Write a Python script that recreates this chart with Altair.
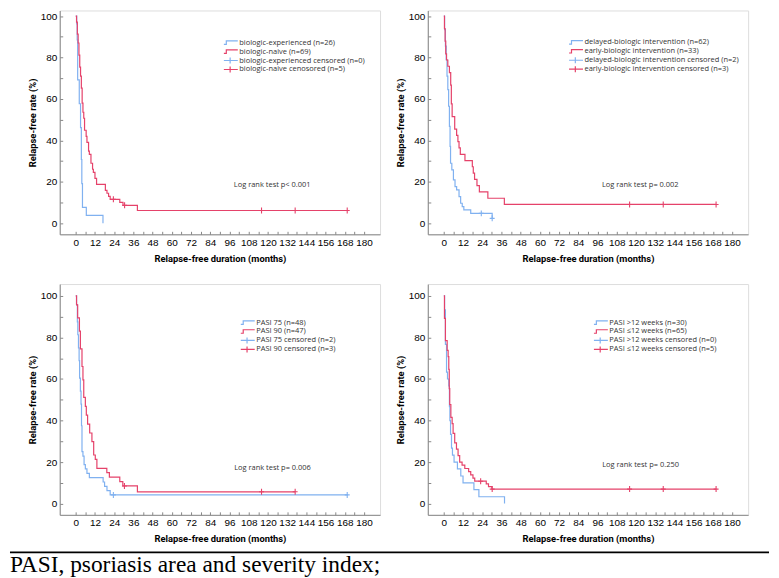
import altair as alt
import pandas as pd

BLUE = "#80b1f0"
RED = "#e5426a"
FONT = "Open Sans"
TFONT = "Roboto"
TXT = "#333333"

# ---------------- data ----------------
x_tick_values = [0, 6, 12, 18, 24, 30, 36, 42, 48, 54, 60, 66, 72, 78, 84, 90, 96, 102,
                 108, 114, 120, 126, 132, 138, 144, 150, 156, 162, 168, 174, 180]
y_tick_values = [0, 10, 20, 30, 40, 50, 60, 70, 80, 90, 100]

# Panel 1
p1_labels = ["biologic-experienced (n=26)", "biologic-naive (n=69)",
             "biologic-experienced censored (n=0)", "biologic-naive cenosored (n=5)"]
p1_blue_t = [0, 0.6, 0.9, 1.2, 2.2, 3.0, 3.5, 3.8, 4.2, 6.6, 17.0]
p1_blue_s = [100, 96.2, 88.5, 69.2, 57.7, 46.2, 30.8, 19.2, 7.7, 3.8, 0]
p1_blue_end = 17.0
p1_blue_cens_t = []
p1_blue_cens_s = []
p1_red_t = [0, 0.5, 1.0, 1.5, 2.0, 2.5, 3.0, 3.5, 4.0, 4.5, 5.0, 5.5, 6.5, 7.0, 8.0, 8.5,
            9.5, 10.5, 11.0, 12.0, 13.0, 18.5, 19.5, 20.5, 21.5, 27.5, 29.5, 38.5]
p1_red_s = [100, 97.1, 91.3, 87.0, 81.2, 75.4, 71.0, 65.2, 58.0, 53.6, 50.7, 44.9, 42.0,
            39.1, 34.8, 33.3, 29.0, 26.1, 24.6, 21.7, 18.8, 15.9, 14.5, 13.0, 11.6, 10.1, 8.7, 6.2]
p1_red_end = 170.0
p1_red_cens_t = [23.5, 30.5, 116, 137, 169.5]
p1_red_cens_s = [11.6, 8.7, 6.2, 6.2, 6.2]
p1_test = "Log rank test p< 0.001"

# Panel 2
p2_labels = ["delayed-biologic intervention (n=62)", "early-biologic intervention (n=33)",
             "delayed-biologic intervention censored (n=2)", "early-biologic intervention censored (n=3)"]
p2_blue_t = [0, 0.5, 1.0, 1.5, 2.0, 2.5, 3.0, 3.5, 3.9, 4.2, 5.0, 6.0, 7.0, 8.0, 9.5,
             10.5, 11.5, 12.5, 16.8, 30.2]
p2_blue_s = [100, 93.5, 85.5, 79.0, 71.0, 64.5, 56.5, 46.8, 37.1, 29.0, 25.8, 21.0, 17.7,
             16.1, 12.9, 9.7, 8.1, 6.5, 4.8, 2.4]
p2_blue_end = 30.2
p2_blue_cens_t = [23.4, 30.2]
p2_blue_cens_s = [4.8, 2.4]
p2_red_t = [0, 0.4, 0.8, 1.2, 1.7, 2.5, 3.5, 4.3, 4.7, 5.2, 6.8, 8.0, 8.8, 9.5, 10.3,
            13.2, 17.8, 18.4, 19.2, 20.7, 22.2, 27.5, 37.8]
p2_red_s = [100, 93.9, 87.9, 81.8, 78.8, 75.8, 72.7, 66.7, 57.6, 51.5, 45.5, 42.4, 39.4,
            36.4, 33.3, 30.3, 27.3, 24.2, 21.2, 18.2, 15.2, 12.1, 9.1]
p2_red_end = 170.0
p2_red_cens_t = [116, 137, 170]
p2_red_cens_s = [9.1, 9.1, 9.1]
p2_test = "Log rank test p= 0.002"

# Panel 3
p3_labels = ["PASI 75 (n=48)", "PASI 90 (n=47)", "PASI 75 censored (n=2)", "PASI 90 censored (n=3)"]
p3_blue_t = [0, 0.5, 1.0, 1.3, 1.7, 2.1, 2.4, 2.9, 3.3, 3.6, 3.9, 4.5, 5.2, 6.0, 7.0,
             8.5, 17.1, 18.0, 19.5, 21.5]
p3_blue_s = [100, 95.8, 87.5, 81.3, 75.0, 68.8, 60.4, 54.2, 47.9, 37.5, 25.0, 22.9, 18.8,
             16.7, 14.6, 12.5, 10.4, 8.3, 6.3, 4.2]
p3_blue_end = 170.0
p3_blue_cens_t = [23.5, 169.5]
p3_blue_cens_s = [4.2, 4.2]
p3_red_t = [0, 0.5, 1.2, 2.3, 2.9, 3.9, 4.5, 5.0, 6.0, 6.6, 7.4, 8.7, 10.1, 11.2, 12.2,
            13.2, 19.4, 21.0, 27.5, 29.4, 38.5]
p3_red_s = [100, 95.7, 89.4, 83.0, 74.5, 66.0, 59.6, 51.1, 46.8, 42.6, 38.3, 34.0, 29.8,
            23.4, 21.3, 17.0, 14.9, 12.8, 10.6, 8.5, 5.7]
p3_red_end = 137.0
p3_red_cens_t = [30.4, 116, 137]
p3_red_cens_s = [8.5, 5.7, 5.7]
p3_test = "Log rank test p= 0.006"

# Panel 4
p4_labels = ["PASI >12 weeks (n=30)", "PASI \u226412 weeks (n=65)",
             "PASI >12 weeks censored (n=0)", "PASI \u226412 weeks censored (n=5)"]
p4_blue_t = [0, 0.5, 1.0, 1.7, 2.3, 3.1, 3.5, 3.8, 4.2, 4.8, 5.4, 6.4, 8.5, 10.6, 12.0,
             18.8, 21.9, 37.9]
p4_blue_s = [100, 93.3, 76.7, 63.3, 60.0, 56.7, 46.7, 40.0, 33.3, 26.7, 23.3, 20.0, 16.7,
             13.3, 10.0, 6.7, 3.3, 0]
p4_blue_end = 37.9
p4_blue_cens_t = []
p4_blue_cens_s = []
p4_red_t = [0, 0.4, 1.0, 2.1, 2.7, 3.1, 3.4, 3.7, 4.4, 5.2, 5.8, 6.8, 7.9, 8.9, 9.9,
            11.4, 13.1, 15.5, 16.8, 18.2, 19.3, 26.5, 27.9, 30.0]
p4_red_s = [100, 89.2, 78.5, 73.8, 70.8, 64.6, 55.4, 47.7, 41.5, 38.5, 33.8, 29.2, 26.2,
            23.1, 20.0, 18.5, 16.9, 15.4, 13.8, 12.3, 10.8, 9.5, 8.2, 7.0]
p4_red_end = 170.0
p4_red_cens_t = [23.0, 30.2, 116, 137, 170]
p4_red_cens_s = [10.8, 7.0, 7.0, 7.0, 7.0]
p4_test = "Log rank test p= 0.250"

test_pos_t = [98.7, 98.7, 98.9, 98.9]
test_pos_s = [18.7, 18.7, 17.2, 18.5]

CAPTION = "PASI, psoriasis area and severity index;"

# ---------------- styling helpers ----------------
STEP_PATH = "M-1,0.25H-0.65V-0.25H1"
CENS_LEG_PATH = "M-1,0H1M-0.1,-0.43V0.43"
CENS_PATH = "M-1,0H1M0,-1.2V1.2"
LEG_COLORS = [BLUE, RED, BLUE, RED]
LEG_SHAPES = [STEP_PATH, STEP_PATH, CENS_LEG_PATH, CENS_LEG_PATH]

PANEL_W = 322
ROW_H = [225, 232]
Y_DOMAINS = [[-5.3, 102.7], [-5.4, 105.7]]
X_DOMAIN = [-10, 190]
TITLE_SIZE = 9.4


def curve_df(ts, ss, end):
    return pd.DataFrame({"t": list(ts) + [end], "s": list(ss) + [ss[-1]]})


def make_panel(idx, labels, bt, bs, bend, bct, bcs, rt, rs, rend, rct, rcs, test,
               leg_x, leg_y, extra=None):
    row = 0 if idx < 2 else 1
    x_enc = alt.X("t:Q",
                  scale=alt.Scale(domain=X_DOMAIN, nice=False, zero=False),
                  axis=alt.Axis(values=x_tick_values,
                                labelExpr="datum.value % 12 == 0 ? datum.label : ''",
                                title="Relapse-free duration (months)",
                                titleFont=TFONT, titleFontSize=TITLE_SIZE, titleFontWeight="bold",
                                grid=False, labelFlush=False, labelOverlap=False,
                                tickSize={"expr": "-3"}, labelPadding=6,
                                titlePadding=7))
    y_enc = alt.Y("s:Q",
                  scale=alt.Scale(domain=Y_DOMAINS[row], nice=False, zero=False),
                  axis=alt.Axis(values=y_tick_values,
                                labelExpr="datum.value % 20 == 0 ? datum.label : ''",
                                title="Relapse-free rate (%)",
                                titleFont=TFONT, titleFontSize=TITLE_SIZE, titleFontWeight="bold",
                                grid=False, labelFlush=False, labelOverlap=False,
                                tickSize={"expr": "-3"}, labelPadding=6,
                                titlePadding=3))
    layers = []
    for ts, ss, end, col in [(bt, bs, bend, BLUE), (rt, rs, rend, RED)]:
        layers.append(
            alt.Chart(curve_df(ts, ss, end))
            .mark_line(interpolate="step-after", color=col, strokeWidth=1.2)
            .encode(x=x_enc, y=y_enc)
        )
    for ct, cs, col in [(bct, bcs, BLUE), (rct, rcs, RED)]:
        if len(ct) == 0:
            continue
        layers.append(
            alt.Chart(pd.DataFrame({"t": ct, "s": cs}))
            .mark_point(shape=CENS_PATH, size=25, color=col, filled=False, strokeWidth=1.1,
                        opacity=1)
            .encode(x=x_enc, y=y_enc)
        )
    # legend (drawn as symbols + labels)
    for i, lab in enumerate(labels):
        ld = pd.DataFrame({"lab": [lab]})
        ypos = leg_y + 9 * i
        layers.append(
            alt.Chart(ld)
            .mark_point(shape=LEG_SHAPES[i], size=196, color=LEG_COLORS[i], filled=False,
                        strokeWidth=1.2, opacity=1)
            .encode(x=alt.value(leg_x + 7), y=alt.value(ypos))
        )
        layers.append(
            alt.Chart(ld)
            .mark_text(align="left", baseline="middle", font=FONT, fontSize=7.5, color=TXT)
            .encode(x=alt.value(leg_x + 15.5), y=alt.value(ypos), text="lab:N")
        )
    layers.append(
        alt.Chart(pd.DataFrame({"t": [test_pos_t[idx]], "s": [test_pos_s[idx]], "txt": [test]}))
        .mark_text(align="left", baseline="middle", font=FONT, fontSize=7.5, color=TXT)
        .encode(x=x_enc, y=y_enc, text="txt:N")
    )
    if extra:
        layers.extend(extra)
    return alt.layer(*layers).properties(width=PANEL_W, height=ROW_H[row])


caption_layers = [
    alt.Chart(pd.DataFrame({"c": [CAPTION]}))
    .mark_rule(color="black", strokeWidth=1.7)
    .encode(x=alt.value(-50), x2=alt.value(713), y=alt.value(269.8)),
    alt.Chart(pd.DataFrame({"c": [CAPTION]}))
    .mark_text(align="left", baseline="alphabetic", font="Liberation Serif",
               fontSize=23.5, color="black")
    .encode(x=alt.value(-50), y=alt.value(289.5), text="c:N"),
]

p1 = make_panel(0, p1_labels, p1_blue_t, p1_blue_s, p1_blue_end, p1_blue_cens_t, p1_blue_cens_s,
                p1_red_t, p1_red_s, p1_red_end, p1_red_cens_t, p1_red_cens_s, p1_test, 165, 32.3)
p2 = make_panel(1, p2_labels, p2_blue_t, p2_blue_s, p2_blue_end, p2_blue_cens_t, p2_blue_cens_s,
                p2_red_t, p2_red_s, p2_red_end, p2_red_cens_t, p2_red_cens_s, p2_test, 142, 32)
p3 = make_panel(2, p3_labels, p3_blue_t, p3_blue_s, p3_blue_end, p3_blue_cens_t, p3_blue_cens_s,
                p3_red_t, p3_red_s, p3_red_end, p3_red_cens_t, p3_red_cens_s, p3_test, 182, 38.7,
                extra=caption_layers)
p4 = make_panel(3, p4_labels, p4_blue_t, p4_blue_s, p4_blue_end, p4_blue_cens_t, p4_blue_cens_s,
                p4_red_t, p4_red_s, p4_red_end, p4_red_cens_t, p4_red_cens_s, p4_test, 167, 38.7)

chart = (
    alt.concat(p1, p2, p3, p4, columns=2, spacing={"row": 50, "column": 48}, bounds="flush")
    .properties(padding={"left": 0, "top": 0, "right": 0, "bottom": 0})
    .configure_view(stroke=None)
    .configure_axis(labelFont=FONT, labelFontSize=7, labelColor=TXT,
                    titleColor="#222",
                    domainColor="#666", tickColor="#666", domainWidth=1, tickWidth=1)
    .configure(background="white")
)

chart.save("out.html", embed_options={"renderer": "svg", "actions": False})
